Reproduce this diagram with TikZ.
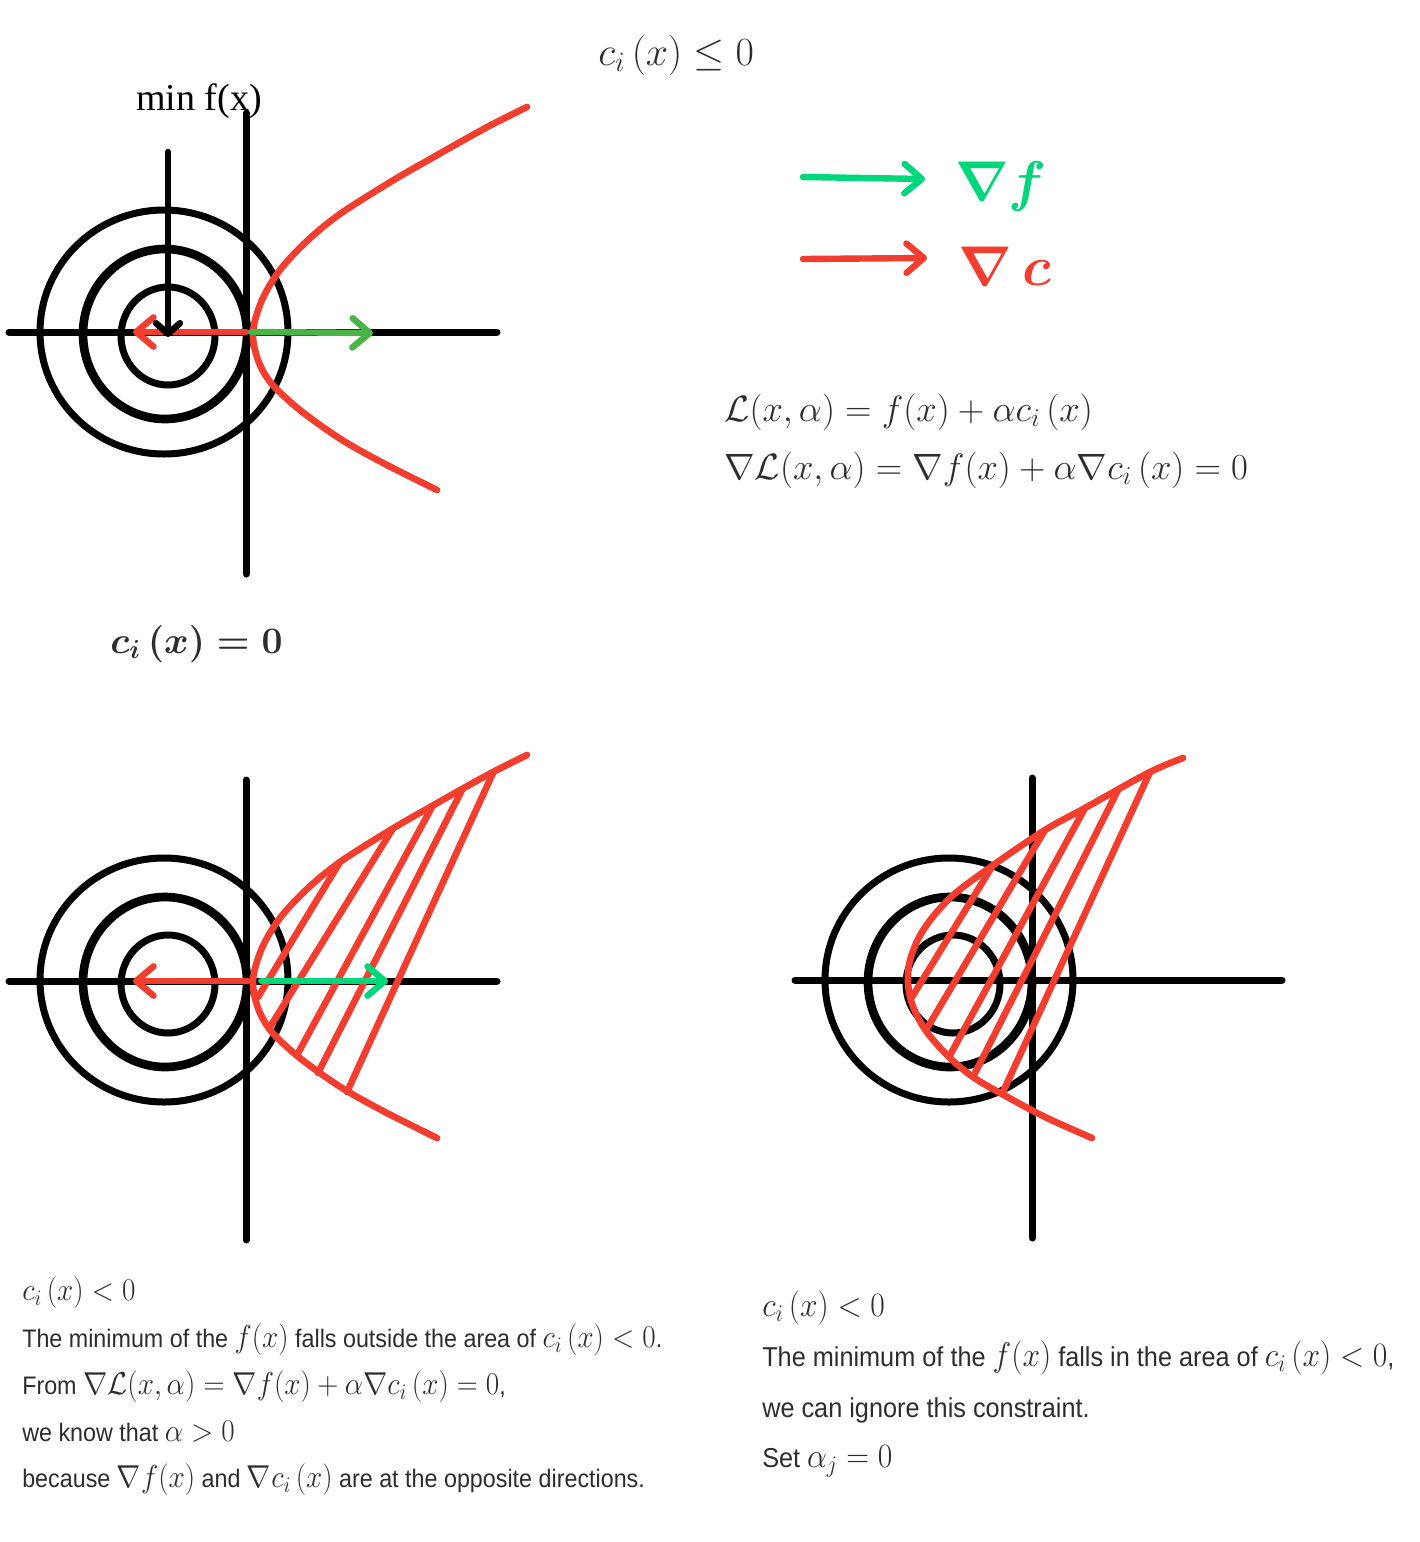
\RequirePackage{fix-cm}
\documentclass[tikz,border=0pt]{standalone}
\usepackage[no-math]{fontspec}
\usepackage{graphicx}
\setmainfont{Liberation Sans}
\newfontfamily\capfont{Liberation Serif}
\usetikzlibrary{arrows.meta,positioning}
\definecolor{red}{RGB}{243,61,46}
\definecolor{green}{RGB}{0,214,122}
\definecolor{leaf}{RGB}{74,180,72}
\definecolor{ink}{RGB}{45,45,45}
% math in the notes runs a bit larger than the text
\newcommand\noteml[1]{{\fontsize{23.75}{28}\selectfont$#1$}}
\newcommand\notemr[1]{{\fontsize{25.6}{30}\selectfont$#1$}}

\begin{document}
\begin{tikzpicture}[x=0.75pt,y=-0.75pt,
  axis/.style={line width=5.25pt,line cap=round},
  level/.style={line width=5.25pt},
  bowl/.style={red,line width=5pt,line cap=round,line join=round},
  tipgrad/.style={line width=4.8pt,line cap=round,
    -{Straight Barb[round,length=13pt,width=22pt]}},
  formula/.style={text=ink,inner sep=0pt,anchor=west},
  body/.style={formula,font=\fontsize{19}{22}\selectfont,
    text height=15pt,text depth=5pt},
  bodyr/.style={formula,font=\fontsize{20.5}{24}\selectfont,
    text height=16pt,text depth=5.5pt}]
\useasboundingbox (0,0) rectangle (1420,1542);

% level sets of f, same in all three panels
\foreach \dx/\dy in {0/0,0/648,785/648}{
  \begin{scope}[shift={(\dx,\dy)}]
    \draw[level] (164,332) ellipse[x radius=124,y radius=122];
    \draw[level,line width=6.5pt] (165,334) ellipse[x radius=82,y radius=85];
    \draw[level] (168,336) ellipse[x radius=47,y radius=49];
  \end{scope}
}

% axes
\draw[axis] (9,332) -- (497,332);
\draw[axis] (246,113) -- (246,574);
\draw[axis] (9,981) -- (497,981);
\draw[axis] (246,780) -- (246,1240);
\draw[axis] (795,980) -- (1282,980);
\draw[axis] (1032,778) -- (1032,1238);

% constraint curve
\foreach \dy in {0,648}
  \draw[bowl,shift={(0,\dy)}] plot[smooth,tension=0.55] coordinates {(527,107)
    (493,124) (462,141) (432,158) (392,181) (340,214) (307,241) (280,270)
    (262,300) (253,332) (258,360) (271,383) (295,406) (320,425) (347,443)
    (385,464) (437,490)};
\draw[bowl] (340,862) -- (258,997) (392,830) -- (270,1027)
  (432,807) -- (297,1055) (462,790) -- (318,1073) (493,773) -- (347,1092);

\draw[bowl] plot[smooth,tension=0.55] coordinates {(1183,758) (1148,773)
  (1085,808) (1045,830) (992,866) (950,898) (922,932) (909,965) (910,997)
  (924,1028) (948,1056) (973,1077) (1002,1094) (1045,1117) (1092,1138)};
\draw[bowl] (993,865) -- (912,997) (1045,830) -- (926,1030)
  (1085,808) -- (949,1057) (1118,790) -- (973,1077) (1150,772) -- (1002,1094);

% gradients
\coordinate (top1) at (168,152);
\coordinate (min1) at (168,337);
\coordinate (cut1) at (246,332);
\coordinate (tipc1) at (133,332);
\coordinate (tipf1) at (373,333);
\coordinate (cut2) at (248,981);
\coordinate (tipc2) at (133,981);
\coordinate (tipf2) at (388,981);
\draw[tipgrad,red] (cut1) -- (tipc1);
\draw[tipgrad,leaf] ([xshift=4pt]cut1) -- (tipf1);
\draw[line width=4.8pt,line cap=round,
  -{Straight Barb[round,length=8pt,width=18pt]}] (top1) -- (min1);
\draw[tipgrad,red] (cut2) -- (tipc2);
\draw[tipgrad,green] ([xshift=10pt]cut2) -- (tipf2);

% legend
\node[font=\fontsize{42}{48}\selectfont\boldmath,text=green,anchor=west,
  inner sep=0pt] (gf) at (955,186) {$\nabla f$};
\node[font=\fontsize{42}{48}\selectfont\boldmath,text=red,anchor=west,
  inner sep=0pt] (gc) at (958,266) {$\nabla\,c$};
\coordinate (lf) at (803,177);
\coordinate (lfend) at (925,179);
\coordinate (lc) at (803,259);
\coordinate (lcend) at (927,258);
\draw[tipgrad,green] (lf) -- (lfend);
\draw[tipgrad,red] (lc) -- (lcend);

% titles and formulas
\node[font=\capfont\fontsize{28.5}{32}\selectfont,inner sep=0pt] (minf)
  at (199,101) {min f(x)};
\node[formula,font=\fontsize{30}{36}\selectfont,text height=22.5pt,
  text depth=7.5pt] (ineq) at (598,55) {$c_i\,(x)\leq 0$};
\node[formula,font=\fontsize{28}{34}\selectfont\boldmath,text height=21pt,
  text depth=7pt] (eq) at (110,644) {$c_i\,(x)=0$};
\node[formula,font=\fontsize{27.5}{33}\selectfont,text height=20.6pt,
  text depth=6.9pt] (lag) at (724,412)
  {$\mathcal{L}(x,\alpha)=f(x)+\alpha c_i\,(x)$};
\node[formula,font=\fontsize{27.5}{33}\selectfont,text height=20.6pt,
  text depth=6.9pt] (glag) at (724,470)
  {$\nabla\mathcal{L}(x,\alpha)=\nabla f(x)+\alpha\nabla c_i\,(x)=0$};

% notes, left
\begin{scope}[node distance=14.7pt]
\node[body] (a1) at (22,1294) {\scalebox{0.92}[1]{\noteml{c_i\,(x)<0}}};
\node[body,below=of a1.south west,anchor=north west] (a2)
  {\scalebox{0.92}[1]{The minimum of the \noteml{f(x)} falls outside the area
  of \noteml{c_i\,(x)<0}.}};
\node[body,below=of a2.south west,anchor=north west] (a3)
  {\scalebox{0.92}[1]{From \noteml{\nabla\mathcal{L}(x,\alpha)=\nabla f(x)
  +\alpha\nabla c_i\,(x)=0},}};
\node[body,below=of a3.south west,anchor=north west] (a4)
  {\scalebox{0.92}[1]{we know that \noteml{\alpha>0}}};
\node[body,below=of a4.south west,anchor=north west] (a5)
  {\scalebox{0.92}[1]{because \noteml{\nabla f(x)} and \noteml{\nabla c_i\,(x)}
  are at the opposite directions.}};
\end{scope}

% notes, right
\begin{scope}[node distance=16pt]
\node[bodyr] (b1) at (762,1309) {\scalebox{0.925}[1]{\notemr{c_i\,(x)<0}}};
\node[bodyr,below=of b1.south west,anchor=north west] (b2)
  {\scalebox{0.925}[1]{The minimum of the \notemr{f(x)} falls in the area of
  \notemr{c_i\,(x)<0},}};
\node[bodyr,below=of b2.south west,anchor=north west] (b3)
  {\scalebox{0.925}[1]{we can ignore this constraint.}};
\node[bodyr,below=of b3.south west,anchor=north west] (b4)
  {\scalebox{0.925}[1]{Set \notemr{\alpha_j=0}}};
\end{scope}
\end{tikzpicture}
\end{document}
